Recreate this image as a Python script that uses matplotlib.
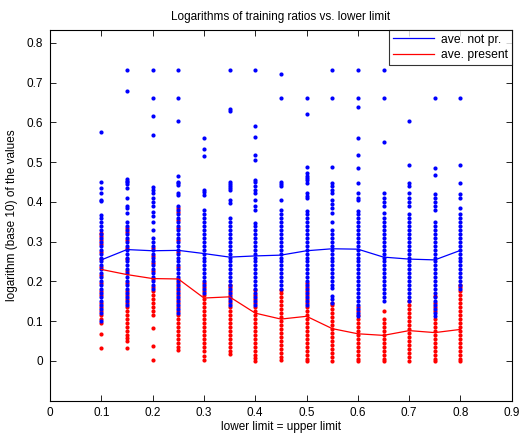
import matplotlib
matplotlib.use("Agg")
import matplotlib.pyplot as plt

plt.rcParams["font.family"] = ["Liberation Sans", "DejaVu Sans"]

# lower limit = upper limit
limits = [0.10, 0.15, 0.20, 0.25, 0.30, 0.35, 0.40, 0.45, 0.50, 0.55, 0.60, 0.65, 0.70, 0.75, 0.80]

# averages drawn as lines
ave_not_pr = [0.254, 0.280, 0.277, 0.278, 0.270, 0.261, 0.264, 0.266, 0.277, 0.282, 0.281, 0.261, 0.256, 0.254, 0.278]
ave_present = [0.230, 0.217, 0.207, 0.206, 0.158, 0.161, 0.120, 0.105, 0.112, 0.081, 0.068, 0.064, 0.076, 0.071, 0.079]

# individual values, one list per lower limit (not present -> blue)
not_pr_vals = [
    [0.575, 0.449, 0.435, 0.422, 0.405, 0.401, 0.368, 0.36, 0.35, 0.34, 0.33, 0.32, 0.31, 0.30, 0.29, 0.28, 0.27,
     0.26, 0.25, 0.24, 0.23, 0.22, 0.21, 0.20, 0.19, 0.18, 0.17, 0.16, 0.15, 0.14, 0.13, 0.12, 0.10],
    [0.732, 0.679, 0.457, 0.453, 0.449, 0.445, 0.435, 0.411, 0.389, 0.384, 0.372, 0.35, 0.34, 0.33, 0.32, 0.31,
     0.30, 0.29, 0.28, 0.27, 0.26, 0.25, 0.24, 0.23, 0.22, 0.21, 0.20, 0.19, 0.18, 0.17, 0.16, 0.15, 0.14],
    [0.732, 0.662, 0.616, 0.569, 0.437, 0.430, 0.422, 0.41, 0.40, 0.39, 0.375, 0.365, 0.35, 0.33, 0.31, 0.30,
     0.29, 0.28, 0.27, 0.26, 0.25, 0.24, 0.23, 0.22, 0.21, 0.20, 0.19, 0.18],
    [0.732, 0.662, 0.604, 0.466, 0.451, 0.447, 0.443, 0.422, 0.418, 0.39, 0.38, 0.37, 0.36, 0.35, 0.34, 0.33,
     0.32, 0.31, 0.30, 0.29, 0.28, 0.27, 0.26, 0.25, 0.24, 0.23, 0.22, 0.21, 0.20, 0.19, 0.18, 0.17, 0.16, 0.15,
     0.14, 0.13, 0.12],
    [0.560, 0.533, 0.516, 0.430, 0.425, 0.418, 0.38, 0.37, 0.36, 0.35, 0.34, 0.33, 0.32, 0.31, 0.30, 0.29, 0.28,
     0.27, 0.26, 0.25, 0.24, 0.23, 0.22, 0.21, 0.20, 0.19, 0.18, 0.17],
    [0.732, 0.634, 0.629, 0.451, 0.445, 0.44, 0.435, 0.43, 0.405, 0.397, 0.36, 0.35, 0.34, 0.33, 0.32, 0.31, 0.30,
     0.29, 0.28, 0.27, 0.26, 0.25, 0.24, 0.23, 0.22, 0.21, 0.20, 0.19, 0.18, 0.17, 0.16, 0.15, 0.14],
    [0.732, 0.591, 0.564, 0.518, 0.506, 0.456, 0.45, 0.44, 0.43, 0.422, 0.405, 0.39, 0.38, 0.347, 0.34, 0.33,
     0.32, 0.31, 0.30, 0.29, 0.28, 0.27, 0.26, 0.25, 0.24, 0.23, 0.22, 0.21, 0.20, 0.19, 0.18, 0.17, 0.16, 0.15,
     0.14],
    [0.723, 0.662, 0.449, 0.444, 0.439, 0.405, 0.38, 0.37, 0.36, 0.35, 0.34, 0.33, 0.32, 0.31, 0.30, 0.29, 0.28,
     0.27, 0.26, 0.25, 0.24, 0.23, 0.22, 0.21, 0.20, 0.19, 0.18],
    [0.662, 0.621, 0.488, 0.472, 0.465, 0.46, 0.455, 0.447, 0.422, 0.415, 0.41, 0.376, 0.37, 0.36, 0.35, 0.34,
     0.33, 0.32, 0.31, 0.30, 0.29, 0.28, 0.27, 0.26, 0.25, 0.24, 0.23, 0.22, 0.21, 0.20, 0.19, 0.18, 0.17, 0.16,
     0.15, 0.14],
    [0.732, 0.662, 0.488, 0.447, 0.44, 0.43, 0.422, 0.405, 0.395, 0.385, 0.372, 0.35, 0.33, 0.32, 0.31, 0.30,
     0.29, 0.28, 0.27, 0.26, 0.25, 0.24, 0.23, 0.22, 0.21, 0.20, 0.19, 0.183, 0.162, 0.155, 0.146],
    [0.732, 0.662, 0.638, 0.562, 0.518, 0.486, 0.447, 0.422, 0.41, 0.405, 0.376, 0.37, 0.36, 0.35, 0.34, 0.33,
     0.32, 0.31, 0.30, 0.29, 0.28, 0.27, 0.26, 0.25, 0.24, 0.23, 0.22, 0.21, 0.20, 0.19, 0.18, 0.17, 0.16, 0.15,
     0.14, 0.13, 0.12, 0.112],
    [0.732, 0.662, 0.551, 0.422, 0.41, 0.40, 0.39, 0.372, 0.36, 0.35, 0.34, 0.33, 0.32, 0.31, 0.30, 0.29, 0.28,
     0.27, 0.26, 0.25, 0.24, 0.23, 0.22, 0.21, 0.20, 0.19, 0.18, 0.17, 0.16, 0.15],
    [0.604, 0.494, 0.447, 0.44, 0.422, 0.41, 0.40, 0.39, 0.37, 0.36, 0.35, 0.34, 0.33, 0.32, 0.31, 0.30, 0.29,
     0.28, 0.27, 0.26, 0.25, 0.24, 0.23, 0.22, 0.21, 0.20, 0.19, 0.18, 0.17, 0.16, 0.15],
    [0.662, 0.485, 0.468, 0.42, 0.41, 0.40, 0.39, 0.38, 0.35, 0.34, 0.33, 0.32, 0.31, 0.30, 0.29, 0.28, 0.27,
     0.26, 0.25, 0.24, 0.23, 0.22, 0.21, 0.20, 0.19, 0.18, 0.17, 0.16, 0.15, 0.14, 0.13, 0.12, 0.112],
    [0.662, 0.494, 0.447, 0.42, 0.41, 0.384, 0.37, 0.36, 0.35, 0.34, 0.33, 0.32, 0.31, 0.30, 0.29, 0.28, 0.27,
     0.26, 0.25, 0.24, 0.23, 0.22, 0.21, 0.20, 0.19, 0.18],
]

# individual values, one list per lower limit (present -> red)
present_vals = [
    [0.322, 0.315, 0.305, 0.295, 0.275, 0.255, 0.235, 0.215, 0.195, 0.175, 0.165, 0.145, 0.135, 0.125, 0.115,
     0.105, 0.095, 0.068, 0.031],
    [0.334, 0.325, 0.305, 0.285, 0.255, 0.225, 0.195, 0.175, 0.165, 0.155, 0.145, 0.135, 0.125, 0.115, 0.105,
     0.095, 0.085, 0.075, 0.066, 0.058, 0.049, 0.031],
    [0.285, 0.265, 0.245, 0.225, 0.205, 0.185, 0.175, 0.165, 0.155, 0.145, 0.135, 0.125, 0.115, 0.083, 0.038,
     0.001],
    [0.385, 0.375, 0.355, 0.335, 0.305, 0.275, 0.235, 0.205, 0.195, 0.185, 0.175, 0.165, 0.155, 0.145, 0.135,
     0.125, 0.115, 0.105, 0.095, 0.085, 0.075, 0.065, 0.055, 0.045, 0.035, 0.028],
    [0.195, 0.185, 0.175, 0.165, 0.155, 0.145, 0.135, 0.125, 0.115, 0.105, 0.095, 0.085, 0.075, 0.065, 0.055,
     0.045, 0.035, 0.025, 0.012, 0.003],
    [0.192, 0.185, 0.175, 0.165, 0.155, 0.145, 0.135, 0.125, 0.115, 0.105, 0.095, 0.085, 0.075, 0.065, 0.055,
     0.045, 0.035, 0.025, 0.016],
    [0.179, 0.165, 0.155, 0.145, 0.135, 0.125, 0.115, 0.105, 0.095, 0.085, 0.075, 0.065, 0.055, 0.045, 0.035,
     0.025, 0.015, 0.008, 0.0],
    [0.179, 0.17, 0.16, 0.15, 0.14, 0.13, 0.12, 0.11, 0.10, 0.09, 0.08, 0.07, 0.06, 0.05, 0.04, 0.03, 0.02,
     0.01, 0.001],
    [0.196, 0.185, 0.175, 0.165, 0.155, 0.145, 0.135, 0.125, 0.115, 0.105, 0.095, 0.085, 0.075, 0.065, 0.055,
     0.045, 0.035, 0.025, 0.015, 0.005, 0.0],
    [0.146, 0.14, 0.13, 0.12, 0.11, 0.10, 0.09, 0.08, 0.07, 0.06, 0.05, 0.04, 0.03, 0.02, 0.01, 0.0],
    [0.135, 0.125, 0.115, 0.105, 0.095, 0.085, 0.075, 0.065, 0.055, 0.045, 0.035, 0.025, 0.015, 0.005, 0.0],
    [0.126, 0.105, 0.095, 0.085, 0.075, 0.065, 0.055, 0.045, 0.035, 0.025, 0.015, 0.005, 0.0],
    [0.15, 0.14, 0.13, 0.12, 0.11, 0.10, 0.09, 0.08, 0.07, 0.06, 0.05, 0.04, 0.03, 0.02, 0.01, 0.0],
    [0.162, 0.145, 0.135, 0.125, 0.105, 0.095, 0.085, 0.075, 0.065, 0.055, 0.045, 0.035, 0.025, 0.015, 0.005,
     0.0],
    [0.192, 0.185, 0.175, 0.165, 0.155, 0.145, 0.135, 0.125, 0.115, 0.105, 0.095, 0.085, 0.075, 0.065, 0.055,
     0.045, 0.035, 0.025, 0.015, 0.005, 0.0],
]

fig = plt.figure(figsize=(5.32, 4.33), dpi=100)
ax = fig.add_axes([0.094, 0.075, 0.868, 0.856])

# red dots first, blue dots on top of them
for x, vals in zip(limits, present_vals):
    ax.plot([x] * len(vals), vals, "o", color="#ff0000", markersize=3.0, markeredgewidth=0)
for x, vals in zip(limits, not_pr_vals):
    ax.plot([x] * len(vals), vals, "o", color="#0000ff", markersize=3.0, markeredgewidth=0)

ax.plot(limits, ave_not_pr, color="#0000ff", linewidth=0.9, label="ave. not pr.")
ax.plot(limits, ave_present, color="#ff0000", linewidth=0.9, label="ave. present")

ax.set_xlim(0, 0.9)
ax.set_ylim(-0.1, 0.833)
ax.set_xticks([0, 0.1, 0.2, 0.3, 0.4, 0.5, 0.6, 0.7, 0.8, 0.9])
ax.set_xticklabels(["0", "0.1", "0.2", "0.3", "0.4", "0.5", "0.6", "0.7", "0.8", "0.9"])
ax.set_yticks([0, 0.1, 0.2, 0.3, 0.4, 0.5, 0.6, 0.7, 0.8])
ax.set_yticklabels(["0", "0.1", "0.2", "0.3", "0.4", "0.5", "0.6", "0.7", "0.8"])
ax.tick_params(direction="in", top=True, right=True, length=4, width=0.6, labelsize=8.5, pad=5)
for s in ax.spines.values():
    s.set_linewidth(0.8)

ax.set_title("Logarithms of training ratios vs. lower limit", fontsize=8.5, pad=7)
ax.set_xlabel("lower limit = upper limit", fontsize=8.5, labelpad=1)
ax.set_ylabel("logarithm (base 10) of the values", fontsize=8.5, labelpad=6)

leg = ax.legend(loc="upper right", fontsize=8.7, borderaxespad=0, fancybox=False,
                handlelength=3.4, handletextpad=0.6, borderpad=0.3, labelspacing=0.3)
leg.get_frame().set_edgecolor("black")
leg.get_frame().set_linewidth(0.8)

fig.savefig("out.png", dpi=100)
